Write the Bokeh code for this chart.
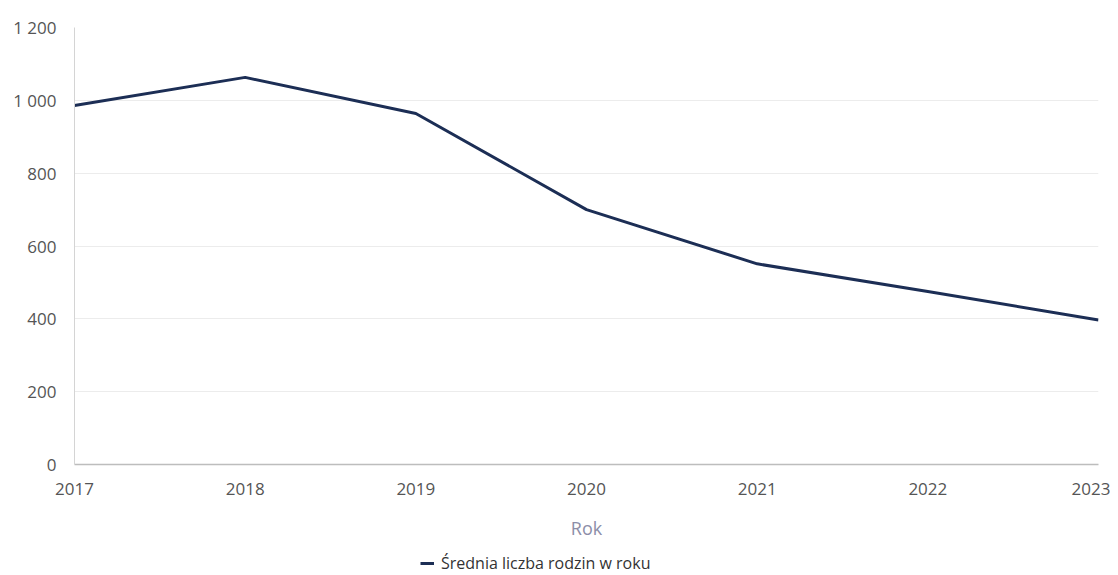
from bokeh.plotting import figure
from bokeh.layouts import column
from bokeh.models import Range1d, FixedTicker, CustomJSTickFormatter, Legend, LegendItem, ColumnDataSource
from bokeh.embed import file_html
from bokeh.resources import INLINE

years = [2017, 2018, 2019, 2020, 2021, 2022, 2023]
values = [986, 1063, 964, 700, 551, 475, 397]
y_ticks = [0, 200, 400, 600, 800, 1000, 1200]
series_name = "Średnia liczba rodzin w roku"
x_label = "Rok"

FONT = "Open Sans"
LINE_COLOR = "#1c2e55"

p = figure(width=1110, height=548, output_backend="svg", toolbar_location=None,
           x_range=Range1d(2017, 2023), y_range=Range1d(0, 1200),
           min_border_left=74, min_border_right=12, min_border_top=27, min_border_bottom=84)
p.outline_line_color = None

src = ColumnDataSource(dict(x=years, y=values))
r = p.line("x", "y", source=src, line_color=LINE_COLOR, line_width=3)

p.xaxis.ticker = FixedTicker(ticks=years)
p.yaxis.ticker = FixedTicker(ticks=y_ticks)
p.yaxis.formatter = CustomJSTickFormatter(code="""
return tick.toFixed(0).replace(/\\B(?=(\\d{3})+(?!\\d))/g, "\\u00a0");
""")

for ax in (p.xaxis, p.yaxis):
    ax.major_tick_line_color = None
    ax.minor_tick_line_color = None
    ax.major_label_text_font = FONT
    ax.major_label_text_font_size = "17px"
    ax.major_label_text_color = "#555555"
p.yaxis.axis_line_color = "#d4d4d4"
p.xaxis.axis_line_color = "#bdbdbd"
p.xaxis.axis_line_width = 1.5
p.yaxis.major_label_standoff = 12
p.xaxis.major_label_standoff = 12

p.xaxis.axis_label = x_label
p.xaxis.axis_label_text_font = FONT
p.xaxis.axis_label_text_font_style = "normal"
p.xaxis.axis_label_text_font_size = "18px"
p.xaxis.axis_label_text_color = "#8c8ea8"
p.xaxis.axis_label_standoff = 18

p.xgrid.grid_line_color = None
p.ygrid.grid_line_color = "#ececec"

# legend strip below the chart (reuses the series' style via a hidden proxy line)
lg = figure(width=1110, height=27, output_backend="svg", toolbar_location=None,
            x_range=Range1d(0, 1), y_range=Range1d(0, 1),
            min_border_left=0, min_border_right=0, min_border_top=0, min_border_bottom=0)
lg.outline_line_color = None
lg.axis.visible = False
lg.grid.visible = False
proxy = ColumnDataSource(dict(x=[-10, -9], y=[-10, -9]))
lr = lg.line("x", "y", source=proxy, line_color=LINE_COLOR, line_width=3)

legend = Legend(items=[LegendItem(label=series_name, renderers=[lr])],
                orientation="horizontal", location=(346, 1),
                label_text_font=FONT, label_text_font_size="16px", label_text_color="#333333",
                border_line_color=None, background_fill_alpha=0,
                glyph_width=14, label_standoff=7, padding=0, margin=0)
lg.add_layout(legend, "center")

layout = column(p, lg, spacing=0)
open("out.html", "w").write(file_html(layout, INLINE))
